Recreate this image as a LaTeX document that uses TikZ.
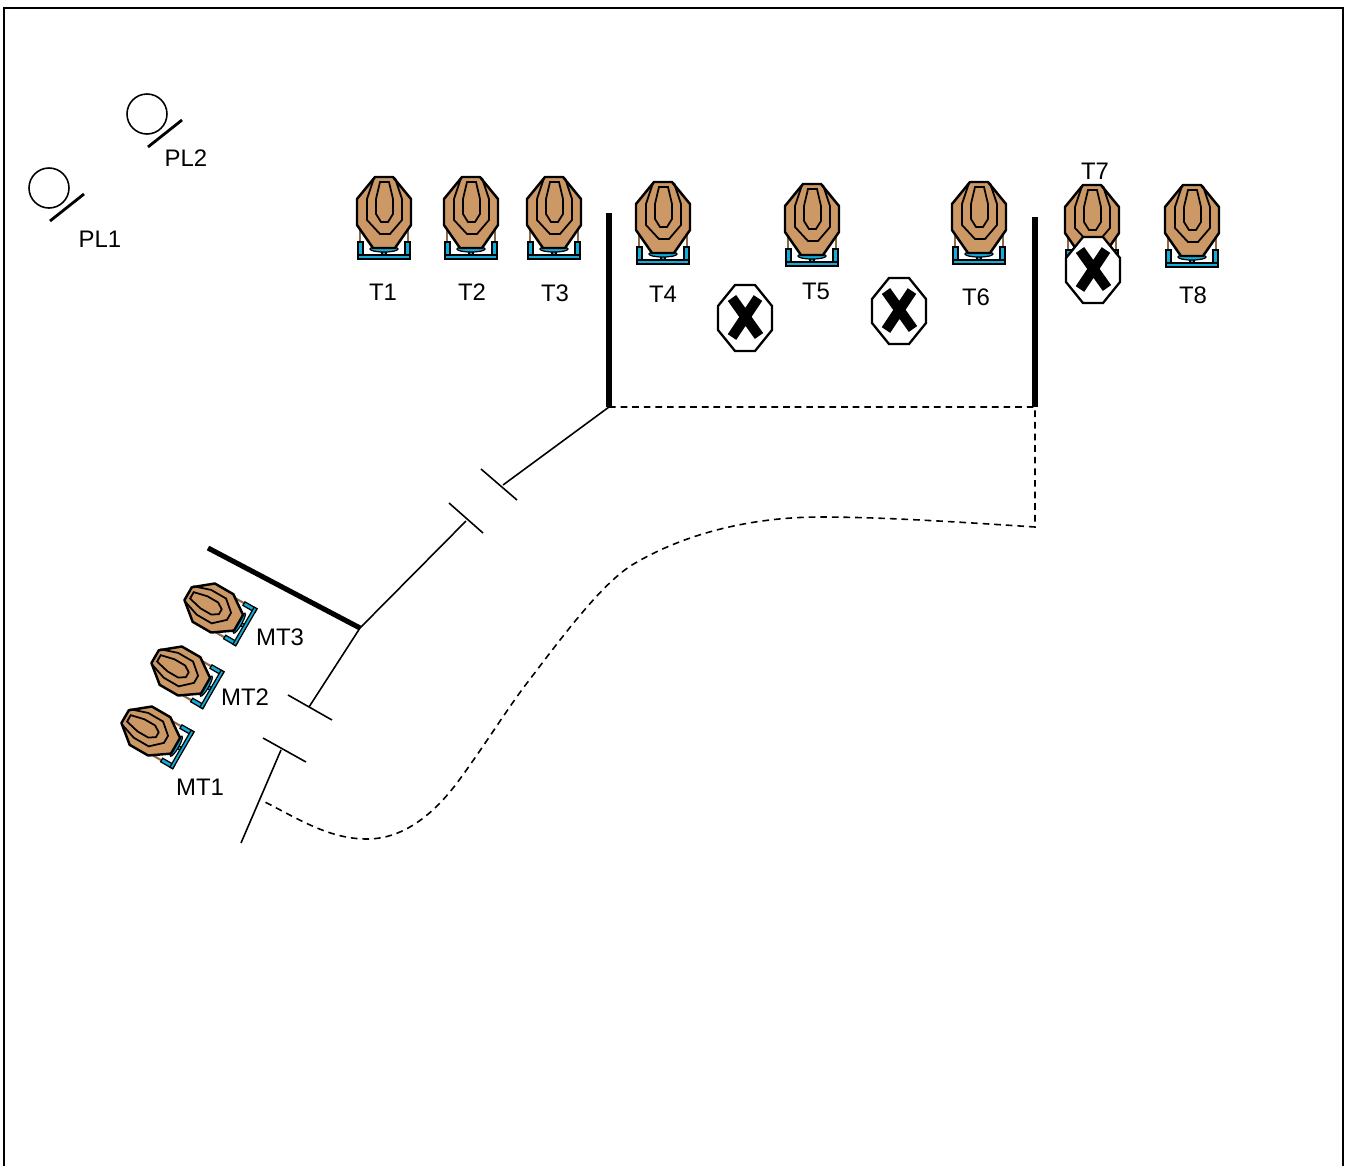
\documentclass[tikz,border=0pt]{standalone}
\usepackage{fontspec}
\setmainfont{Liberation Sans}
\usepackage{tikz}
\definecolor{tantarget}{HTML}{CC9966}
\definecolor{bluestand}{HTML}{11AEDB}
\definecolor{brownleg}{HTML}{8A6A48}
\tikzset{
  lbl/.style={font=\fontsize{6.8}{8}\selectfont,inner sep=0pt},
  thin line/.style={line width=0.45pt},
  wall/.style={line width=1.45pt},
  tick/.style={line width=0.45pt},
  route/.style={line width=0.45pt,dash pattern=on 1.9pt off 1.4pt},
  target/.pic={
    \draw[brownleg,line width=0.6pt] (-24,15) -- (-24,32) (24,15) -- (24,32);
    \draw[fill=bluestand,line width=0.35pt] (-26,30) rectangle (-21,47);
    \draw[fill=bluestand,line width=0.35pt] (21,30) rectangle (26,47);
    \draw[fill=bluestand,line width=0.35pt] (-26,43) rectangle (26,47);
    \draw[fill=bluestand,line width=0.3pt] (-2,36) rectangle (2,43);
    \draw[fill=bluestand,line width=0.35pt] (0,37) ellipse (14 and 3);
    \draw[fill=tantarget,line width=0.7pt,line join=round] (-9,-35) -- (9,-35) -- (27,-13) -- (27,13)
      -- (11,36) -- (-11,36) -- (-27,13) -- (-27,-13) -- cycle;
    \draw[line width=0.5pt] (-10,-34) -- (-17,-13) -- (-17,8) -- (-4,22) -- (6,22) -- (18,8) -- (18,-13) -- (11,-34);
    \draw[line width=0.5pt] (-4,-30) -- (5,-30) -- (9,-13) -- (9,2) -- (4,10) -- (-3,10) -- (-8,2) -- (-8,-13) -- cycle;
  },
  noshoot/.pic={
    \draw[fill=white,line width=0.65pt] (-10,-33) -- (10,-33) -- (27,-12) -- (27,12)
      -- (10,33) -- (-10,33) -- (-27,12) -- (-27,-12) -- cycle;
    \draw[line width=2.9pt] (-13,-20) -- (14,18) (13,-20) -- (-13,19);
  },
  plate/.pic={
    \draw[line width=0.45pt] (0,0) circle (20);
    \draw[line width=0.8pt] (1,33) -- (35,6);
  }
}

\begin{document}
\begin{tikzpicture}[x=0.01cm,y=-0.01cm]
  \useasboundingbox (0,0) rectangle (1350,1166);

  \draw[line width=0.5pt] (4,1166) -- (4,8) -- (1343,8) -- (1343,1166);

  \pic (pl1) at (49,188) {plate};
  \pic (pl2) at (147,114) {plate};

  \pic (t1) at (384,212) {target};
  \pic (t2) at (471,212) {target};
  \pic (t3) at (554,212) {target};
  \pic (t4) at (663,217) {target};
  \pic (t5) at (812,219) {target};
  \pic (t6) at (979,217) {target};
  \pic (t7) at (1092,220) {target};
  \pic (t8) at (1192,220) {target};

  \pic[rotate=60,scale=0.82] (mt3) at (213,608) {target};
  \pic[rotate=60,scale=0.82] (mt2) at (180,671) {target};
  \pic[rotate=60,scale=0.82] (mt1) at (150,731) {target};

  \pic (ns1) at (745,318) {noshoot};
  \pic (ns2) at (899,311) {noshoot};
  \pic (ns3) at (1093,270) {noshoot};

  \node[lbl] (lpl1) at (100,239) {PL1};
  \node[lbl] (lpl2) at (186,158) {PL2};
  \node[lbl] (lt1) at (383,292) {T1};
  \node[lbl] (lt2) at (472,292) {T2};
  \node[lbl] (lt3) at (555,293) {T3};
  \node[lbl] (lt4) at (663,294) {T4};
  \node[lbl] (lt5) at (816,291) {T5};
  \node[lbl] (lt6) at (976,297) {T6};
  \node[lbl] (lt7) at (1095,171) {T7};
  \node[lbl] (lt8) at (1193,295) {T8};
  \node[lbl] (lmt3) at (280,637) {MT3};
  \node[lbl] (lmt2) at (245,697) {MT2};
  \node[lbl] (lmt1) at (200,787) {MT1};

  \coordinate (wall1top) at (609,213);
  \coordinate (wall1) at (609,407);
  \coordinate (wall2top) at (1035,217);
  \coordinate (wall2) at (1035,407);
  \coordinate (bend) at (1035,527);
  \coordinate (door1a) at (503,485);
  \coordinate (door1b) at (466,521);
  \coordinate (corner) at (360,628);
  \coordinate (wall3top) at (208,548);
  \coordinate (door2a) at (309,707);
  \coordinate (door2b) at (281,750);
  \coordinate (wallend) at (241,843);
  \coordinate (routeend) at (265,802);

  \draw[wall] (wall1top) -- (wall1);
  \draw[wall] (wall2top) -- (wall2);
  \draw[wall] (wall3top) -- (corner);
  \draw[thin line] (wall1) -- (door1a);
  \draw[thin line] (door1b) -- (corner);
  \draw[thin line] (corner) -- (door2a);
  \draw[thin line] (door2b) -- (wallend);
  \draw[tick] (481,469) -- (517,500);
  \draw[tick] (449,503) -- (483,533);
  \draw[tick] (288,695) -- (332,720);
  \draw[tick] (263,738) -- (306,762);

  \draw[route] (wall1) -- (wall2) -- (bend)
    .. controls (930,520) and (870,517) .. (820,517)
    .. controls (760,517) and (690,530) .. (632,565)
    .. controls (600,585) and (560,640) .. (527,683)
    .. controls (505,712) and (485,745) .. (457,783)
    .. controls (435,812) and (405,839) .. (367,839)
    .. controls (330,839) and (300,820) .. (routeend);
\end{tikzpicture}
\end{document}
